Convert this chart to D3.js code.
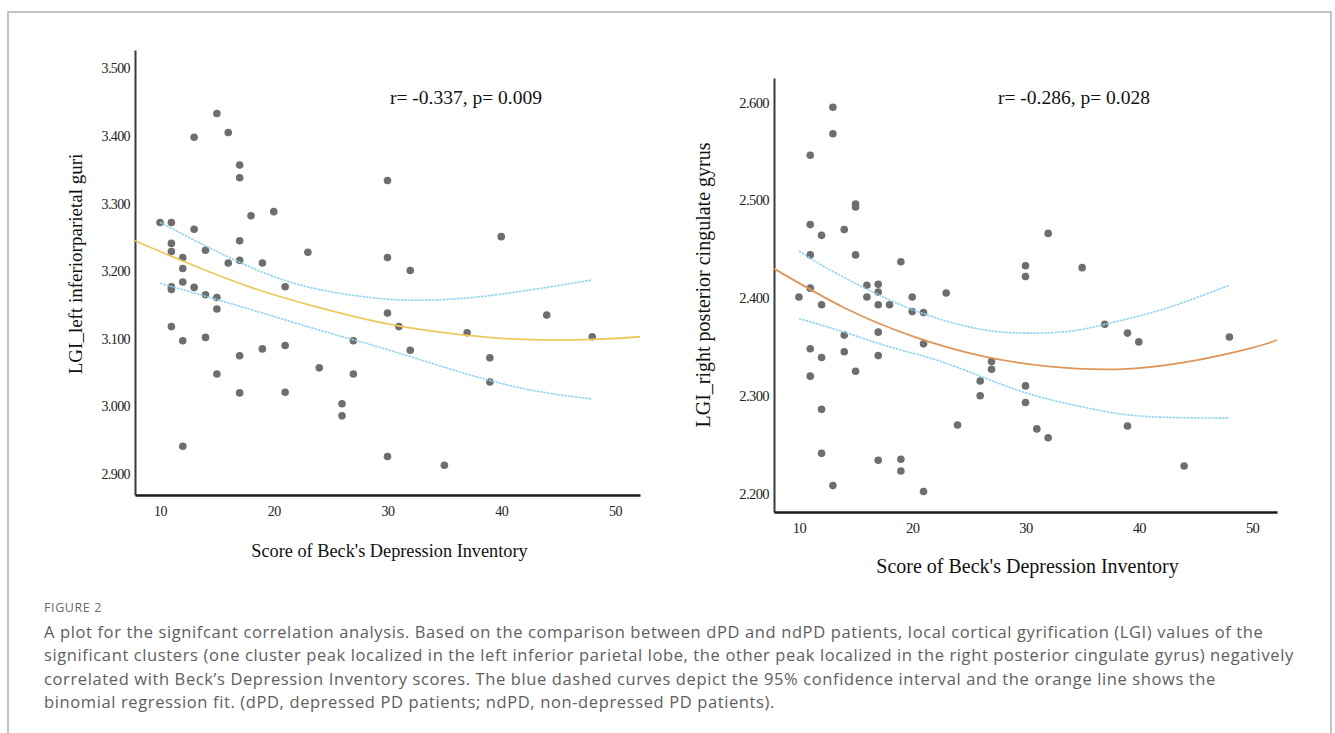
<!DOCTYPE html>
<html>
<head>
<meta charset="utf-8">
<script src="https://cdn.jsdelivr.net/npm/d3@7"></script>
<style>
  body { margin: 0; background: #fff; }
  .tick text { font-family: "Liberation Serif", serif; fill: #222; letter-spacing: -0.6px; }
</style>
</head>
<body>
<div id="main"></div>
<script>
// ====================== data ======================
const xTicks = [10, 20, 30, 40, 50];
const leftYTicks = [2.9, 3.0, 3.1, 3.2, 3.3, 3.4, 3.5];
const rightYTicks = [2.2, 2.3, 2.4, 2.5, 2.6];

// left panel: BDI score vs LGI left inferior parietal
const leftScores = [10, 11, 11, 11, 11, 11, 11, 12, 12, 12, 12, 12, 13, 13, 13, 14, 14, 14,
  15, 15, 15, 15, 16, 16, 17, 17, 17, 17, 17, 17, 18, 19, 19, 20, 21, 21, 21, 23, 24,
  26, 26, 27, 27, 30, 30, 30, 30, 31, 32, 32, 35, 37, 39, 39, 40, 44, 48];
const leftLgi = [3.272, 3.272, 3.241, 3.229, 3.177, 3.173, 3.118, 3.220, 3.204, 3.184, 3.097, 2.941,
  3.398, 3.262, 3.176, 3.231, 3.165, 3.102, 3.433, 3.161, 3.144, 3.048, 3.405, 3.212,
  3.357, 3.338, 3.245, 3.216, 3.075, 3.020, 3.282, 3.212, 3.085, 3.288, 3.177, 3.090, 3.021,
  3.228, 3.057, 3.004, 2.986, 3.097, 3.048, 3.334, 3.220, 3.138, 2.926, 3.118, 3.201, 3.083,
  2.913, 3.109, 3.072, 3.036, 3.251, 3.135, 3.103];
const leftFitX = [7.8, 12, 18, 24, 30, 36, 42, 48, 52.2];
const leftFitY = [3.245, 3.215, 3.176, 3.146, 3.122, 3.107, 3.099, 3.099, 3.103];
const leftUpperX = [10, 16, 22, 28, 32, 36, 40, 44, 48];
const leftUpperY = [3.272, 3.221, 3.181, 3.162, 3.157, 3.159, 3.166, 3.176, 3.187];
const leftLowerX = [10, 15, 20, 25, 30, 35, 40, 44, 48];
const leftLowerY = [3.182, 3.158, 3.133, 3.108, 3.084, 3.058, 3.034, 3.020, 3.011];

// right panel: BDI score vs LGI right posterior cingulate
const rightScores = [10, 11, 11, 11, 11, 11, 11, 12, 12, 12, 12, 12, 13, 13, 13, 14, 14, 14,
  15, 15, 15, 15, 16, 16, 17, 17, 17, 17, 17, 17, 18, 19, 19, 19, 20, 20, 21, 21, 21, 23, 24,
  26, 26, 27, 27, 30, 30, 30, 30, 31, 32, 32, 35, 37, 39, 39, 40, 44, 48];
const rightLgi = [2.401, 2.546, 2.475, 2.444, 2.410, 2.348, 2.320, 2.464, 2.393, 2.339, 2.286, 2.241,
  2.595, 2.568, 2.208, 2.470, 2.362, 2.345, 2.496, 2.493, 2.444, 2.325, 2.413, 2.401,
  2.414, 2.406, 2.393, 2.365, 2.341, 2.234, 2.393, 2.437, 2.235, 2.223, 2.401, 2.386,
  2.385, 2.353, 2.202, 2.405, 2.270, 2.315, 2.300, 2.335, 2.327, 2.433, 2.422, 2.310, 2.293,
  2.266, 2.466, 2.257, 2.431, 2.373, 2.364, 2.269, 2.355, 2.228, 2.360];
const rightFitX = [7.8, 14, 20, 26, 32, 38, 44, 50, 52.2];
const rightFitY = [2.430, 2.390, 2.361, 2.341, 2.330, 2.327, 2.334, 2.349, 2.357];
const rightUpperX = [10, 13, 18, 22, 26, 30, 34, 37, 42, 48];
const rightUpperY = [2.448, 2.427, 2.398, 2.380, 2.368, 2.364, 2.366, 2.373, 2.388, 2.413];
const rightLowerX = [10, 14, 18, 22, 26, 30, 34, 38, 42, 48];
const rightLowerY = [2.379, 2.365, 2.350, 2.337, 2.320, 2.303, 2.291, 2.282, 2.278, 2.277];

const captionLines = [
  "A plot for the signifcant correlation analysis. Based on the comparison between dPD and ndPD patients, local cortical gyrification (LGI) values of the",
  "significant clusters (one cluster peak localized in the left inferior parietal lobe, the other peak localized in the right posterior cingulate gyrus) negatively",
  "correlated with Beck\u2019s Depression Inventory scores. The blue dashed curves depict the 95% confidence interval and the orange line shows the",
  "binomial regression fit. (dPD, depressed PD patients; ndPD, non-depressed PD patients)."
];

// ====================== layout ======================
const width = 1335, height = 733;
const svg = d3.select('#main').append('svg')
  .attr('width', width).attr('height', height);

svg.append('rect').attr('width', width).attr('height', height).attr('fill', '#fff');

// figure frame
svg.append('path')
  .attr('d', 'M8,' + (height + 2) + ' V12 H1331 V' + (height + 2))
  .attr('fill', 'none').attr('stroke', '#b0b0b0').attr('stroke-width', 1.5);

const panels = [
  { left: 135, right: 640, top: 50, bottom: 495, yDomain: [2.869, 3.527], yTicks: leftYTicks,
    scores: leftScores, lgi: leftLgi, fitColor: '#ecc95e',
    fit: [leftFitX, leftFitY], upper: [leftUpperX, leftUpperY], lower: [leftLowerX, leftLowerY],
    yLabel: 'LGI_left inferiorparietal guri', yLabelX: 82, yLabelY: 264, yFont: 19,
    note: 'r= -0.337, p= 0.009', noteX: 390, noteY: 104,
    xLabelY: 557, xFont: 18.3, tickFont: 14 },
  { left: 774, right: 1277, top: 78, bottom: 512, yDomain: [2.181, 2.625], yTicks: rightYTicks,
    scores: rightScores, lgi: rightLgi, fitColor: '#df9659',
    fit: [rightFitX, rightFitY], upper: [rightUpperX, rightUpperY], lower: [rightLowerX, rightLowerY],
    yLabel: 'LGI_right posterior cingulate gyrus', yLabelX: 710, yLabelY: 285, yFont: 20,
    note: 'r= -0.286, p= 0.028', noteX: 998, noteY: 104,
    xLabelY: 573, xFont: 20, tickFont: 14.5 }
];

panels.forEach(function(p) {
  const x = d3.scaleLinear().domain([7.8, 52.2]).range([p.left, p.right]);
  const y = d3.scaleLinear().domain(p.yDomain).range([p.bottom, p.top]);
  const g = svg.append('g');

  // axes
  const yAxis = g.append('g')
    .attr('transform', 'translate(' + p.left + ',0)')
    .call(d3.axisLeft(y).tickValues(p.yTicks).tickFormat(d3.format('.3f')).tickSize(0).tickPadding(5));
  yAxis.select('.domain').attr('stroke', '#3a3a3a').attr('stroke-width', 2);
  yAxis.selectAll('text').style('font-size', p.tickFont + 'px');

  const xAxis = g.append('g')
    .attr('transform', 'translate(0,' + p.bottom + ')')
    .call(d3.axisBottom(x).tickValues(xTicks).tickSize(0).tickPadding(11));
  xAxis.select('.domain').attr('stroke', '#1a1a1a').attr('stroke-width', 2.5);
  xAxis.selectAll('text').style('font-size', p.tickFont + 'px');

  // points
  g.append('g').selectAll('circle')
    .data(p.scores.map((s, i) => [s, p.lgi[i]]))
    .enter().append('circle')
    .attr('cx', d => x(d[0]))
    .attr('cy', d => y(d[1]))
    .attr('r', 3.8)
    .attr('fill', '#6e6e6e');

  const line = d3.line().x(d => x(d[0])).y(d => y(d[1])).curve(d3.curveNatural);
  const pairs = arr => arr[0].map((v, i) => [v, arr[1][i]]);

  [p.upper, p.lower].forEach(function(ci) {
    g.append('path').datum(pairs(ci))
      .attr('d', line)
      .attr('fill', 'none')
      .attr('stroke', '#8fd4f5')
      .attr('stroke-width', 1.6)
      .attr('stroke-dasharray', '2.5,1');
  });

  g.append('path').datum(pairs(p.fit))
    .attr('d', line)
    .attr('fill', 'none')
    .attr('stroke', p.fitColor)
    .attr('stroke-width', 1.8);

  // texts
  g.append('text')
    .attr('x', p.noteX).attr('y', p.noteY)
    .style('font-family', '"Liberation Serif", serif').style('font-size', '19.5px')
    .attr('fill', '#111')
    .text(p.note);

  g.append('text')
    .attr('x', (p.left + p.right) / 2 + 2).attr('y', p.xLabelY)
    .attr('text-anchor', 'middle')
    .style('font-family', '"Liberation Serif", serif').style('font-size', p.xFont + 'px')
    .attr('fill', '#111')
    .text("Score of Beck's Depression Inventory");

  g.append('text')
    .attr('transform', 'translate(' + p.yLabelX + ',' + p.yLabelY + ') rotate(-90)')
    .attr('text-anchor', 'middle')
    .style('font-family', '"Liberation Serif", serif').style('font-size', p.yFont + 'px')
    .attr('fill', '#111')
    .text(p.yLabel);
});

// caption
svg.append('text')
  .attr('x', 44).attr('y', 612)
  .style('font-family', '"Open Sans", sans-serif').style('font-size', '12.5px')
  .style('letter-spacing', '0.6px')
  .attr('fill', '#6a6a6a')
  .text('FIGURE 2');

svg.append('g').selectAll('text')
  .data(captionLines)
  .enter().append('text')
  .attr('x', 44)
  .attr('y', (d, i) => 638 + i * 23.3)
  .style('font-family', '"Open Sans", sans-serif').style('font-size', '16.5px')
  .style('letter-spacing', '0.62px')
  .attr('fill', '#5e5e5e')
  .text(d => d);
</script>
</body>
</html>
